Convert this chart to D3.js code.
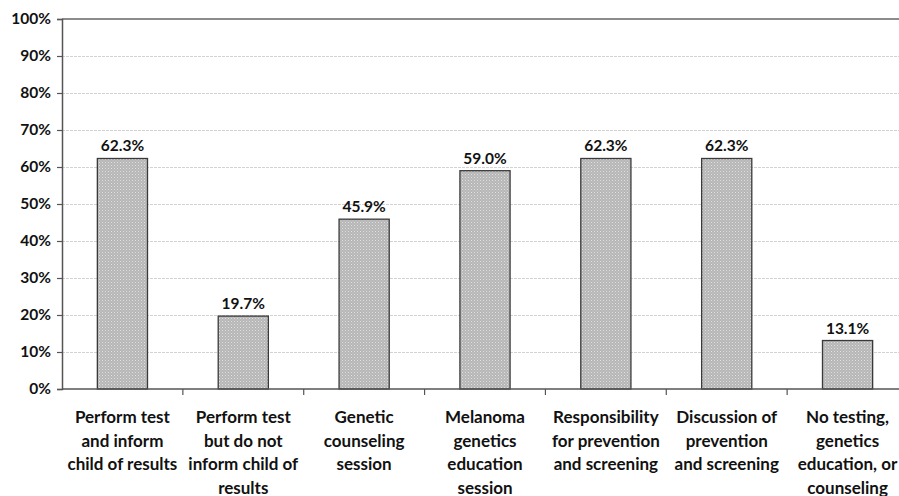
<!DOCTYPE html>
<html>
<head>
<meta charset="utf-8">
<script src="https://cdn.jsdelivr.net/npm/d3@7"></script>
<style>
  html, body { margin: 0; padding: 0; background: #fff; }
  svg { display: block; }
  text { font-family: Lato, "Open Sans", sans-serif; font-weight: bold; fill: #111; }
</style>
</head>
<body>
<svg id="chart" width="899" height="496"></svg>
<script>
// Category labels, broken into the lines shown under each bar
const categories = [
  "Perform test|and inform|child of results",
  "Perform test|but do not|inform child of|results",
  "Genetic|counseling|session",
  "Melanoma|genetics|education|session",
  "Responsibility|for prevention|and screening",
  "Discussion of|prevention|and screening",
  "No testing,|genetics|education, or|counseling"
];
// Percent of respondents per category
const values = [62.3, 19.7, 45.9, 59.0, 62.3, 62.3, 13.1];
const yTicks = [0, 10, 20, 30, 40, 50, 60, 70, 80, 90, 100];

const svg = d3.select("#chart");
const plotLeft = 62, plotRight = 908, plotTop = 19, plotBottom = 389;

const x = d3.scaleBand()
  .domain(categories)
  .range([plotLeft, plotRight])
  .paddingInner(0.585)
  .paddingOuter(0.2925);
const step = x.step();

const y = d3.scaleLinear().domain([0, 100]).range([plotBottom, plotTop]);

// Dotted fill for the bars
const defs = svg.append("defs");
const pat = defs.append("pattern")
  .attr("id", "dots").attr("patternUnits", "userSpaceOnUse")
  .attr("width", 3).attr("height", 3);
pat.append("rect").attr("width", 3).attr("height", 3).attr("fill", "#b6b6b6");
pat.append("rect").attr("x", 0).attr("y", 0).attr("width", 1).attr("height", 1).attr("fill", "#e0e0e0");
pat.append("rect").attr("x", 1.5).attr("y", 1.5).attr("width", 1).attr("height", 1).attr("fill", "#d4d4d4");

// Horizontal gridlines
svg.append("g").selectAll("line")
  .data(yTicks.filter(d => d > 0 && d < 100))
  .join("line")
  .attr("x1", plotLeft).attr("x2", 899)
  .attr("y1", d => y(d) + 0.5).attr("y2", d => y(d) + 0.5)
  .attr("stroke", "#d2d2d2").attr("stroke-width", 1)
  .attr("stroke-dasharray", "3,1");

// Top border of plot area
svg.append("line")
  .attr("x1", plotLeft).attr("x2", 899)
  .attr("y1", y(100)).attr("y2", y(100))
  .attr("stroke", "#666").attr("stroke-width", 1.5);

// Y axis
const yAxis = d3.axisLeft(y).tickValues(yTicks).tickSize(5).tickPadding(6)
  .tickFormat(d => d + "%");
const gy = svg.append("g").attr("transform", `translate(${plotLeft},0)`).call(yAxis);
gy.select(".domain").attr("stroke", "#555").attr("stroke-width", 1.5);
gy.selectAll(".tick line").attr("stroke", "#555").attr("stroke-width", 1.2);
gy.selectAll(".tick text").style("font-size", "15.5px").style("font-family", "Lato, sans-serif")
  .attr("fill", "#111");

// Bars
svg.append("g").selectAll("rect")
  .data(values)
  .join("rect")
  .attr("x", (d, i) => x(categories[i]))
  .attr("width", x.bandwidth())
  .attr("y", d => y(d))
  .attr("height", d => y(0) - y(d))
  .attr("fill", "url(#dots)")
  .attr("stroke", "#3a3a3a").attr("stroke-width", 1.3);

// Value labels
svg.append("g").selectAll("text")
  .data(values)
  .join("text")
  .attr("x", (d, i) => x(categories[i]) + x.bandwidth() / 2)
  .attr("y", d => y(d) - 7)
  .attr("text-anchor", "middle")
  .style("font-size", "15.5px")
  .text(d => d.toFixed(1) + "%");

// X axis baseline and category boundary ticks
svg.append("line")
  .attr("x1", plotLeft).attr("x2", 899)
  .attr("y1", plotBottom).attr("y2", plotBottom)
  .attr("stroke", "#555").attr("stroke-width", 1.5);
svg.append("g").selectAll("line")
  .data(d3.range(1, categories.length))
  .join("line")
  .attr("x1", i => plotLeft + i * step).attr("x2", i => plotLeft + i * step)
  .attr("y1", plotBottom).attr("y2", plotBottom + 6)
  .attr("stroke", "#555").attr("stroke-width", 1.2);

// Category labels
const labels = svg.append("g").selectAll("text")
  .data(categories)
  .join("text")
  .attr("x", d => x(d) + x.bandwidth() / 2)
  .attr("y", 423)
  .attr("text-anchor", "middle")
  .style("font-size", "17px");
labels.each(function(d) {
  const t = d3.select(this);
  d.split("|").forEach((line, k) => {
    t.append("tspan")
      .attr("x", x(d) + x.bandwidth() / 2)
      .attr("dy", k === 0 ? 0 : 23.5)
      .text(line);
  });
});
</script>
</body>
</html>
